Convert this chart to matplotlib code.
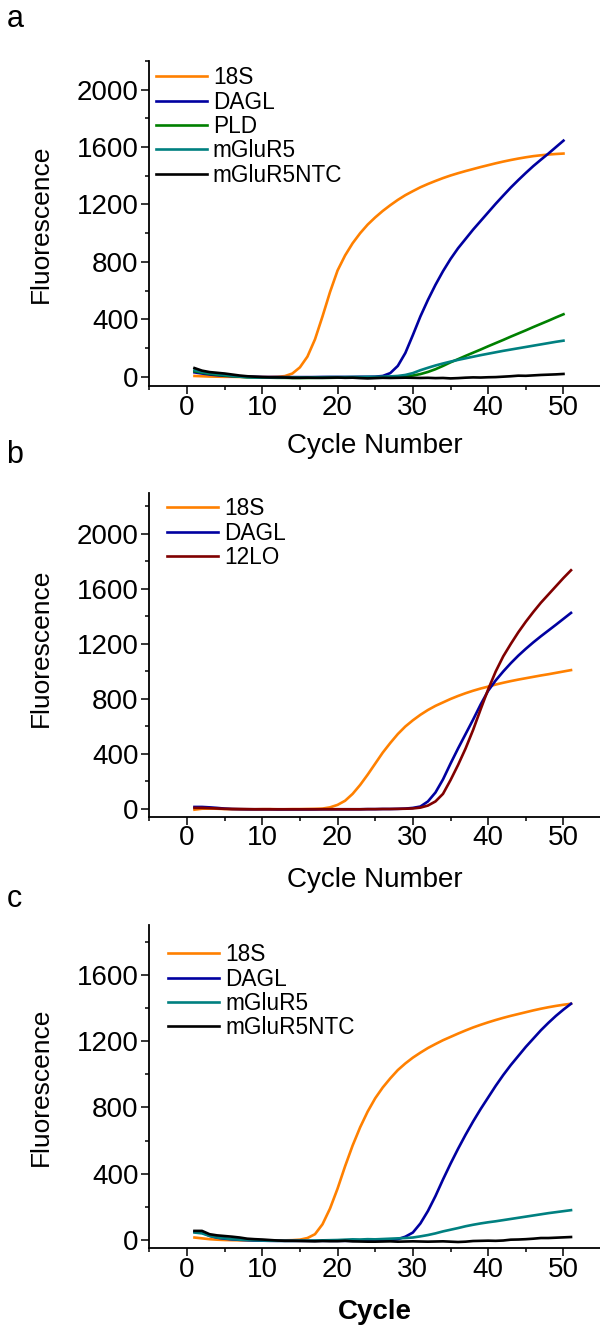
import numpy as np
import matplotlib.pyplot as plt
from matplotlib.ticker import MultipleLocator

# ==========================================
# Data
# ==========================================
cycles_a = np.arange(1, 51)
cycles_bc = np.arange(1, 52)

# panel a
a_18s = [5, 3, 1, 0, -1, -1, -2, -2, -2, -2, -2, -1, 4, 22, 65, 140, 260, 420, 590, 740,
         845, 930, 1000, 1060, 1110, 1155, 1195, 1232, 1265, 1293, 1320, 1343, 1364, 1384, 1402,
         1418, 1433, 1447, 1461, 1474, 1487, 1499, 1510, 1520, 1529, 1537, 1543, 1548, 1552, 1555]
a_dagl = [30, 22, 15, 10, 6, 3, 1, 0, -1, -2, -2, -2, -3, -3, -3, -3, -3, -2, -2, -2,
          -2, -2, -1, -1, 0, 5, 25, 75, 165, 290, 420, 535, 640, 735, 820, 895, 960, 1025,
          1085, 1145, 1205, 1262, 1318, 1370, 1420, 1468, 1512, 1555, 1600, 1645]
a_pld = [38, 28, 20, 14, 9, 4, 0, -4, -5, -6, -7, -8, -8, -9, -9, -9, -8, -8, -8, -7,
         -7, -6, -6, -5, -5, -4, -3, -2, 2, 8, 18, 33, 52, 75, 100, 122, 145, 167, 189, 212,
         234, 256, 279, 301, 323, 346, 368, 390, 413, 435]
a_mglur5 = [45, 32, 24, 18, 12, 6, 0, -4, -6, -6, -7, -7, -6, -6, -5, -5, -4, -4, -3, -3,
            -3, -2, -2, -1, -1, 0, 2, 5, 12, 25, 45, 62, 78, 92, 105, 117, 128, 139, 150, 160,
            170, 180, 189, 198, 207, 216, 225, 234, 243, 251]
a_ntc = [60, 42, 32, 27, 22, 15, 8, 3, 0, -3, -5, -5, -6, -8, -8, -7, -8, -8, -7, -6,
         -8, -7, -10, -12, -10, -8, -9, -8, -7, -8, -9, -8, -10, -9, -12, -10, -7, -5, -6, -4,
         -3, 0, 3, 7, 6, 9, 12, 14, 16, 19]

# panel b
b_18s = [-5, 2, 3, 2, 0, -1, -1, -2, -2, -1, -1, -2, -2, -1, -1, 0, 1, 3, 12, 30,
         60, 110, 175, 250, 330, 410, 480, 545, 600, 645, 685, 720, 750, 775, 800, 822, 842,
         860, 876, 890, 905, 918, 930, 941, 951, 961, 971, 980, 990, 1000, 1010]
b_dagl = [15, 15, 12, 8, 3, 0, -1, -2, -2, -2, -2, -3, -3, -3, -3, -3, -3, -2, -2, -2,
          -2, -2, -2, -1, -1, 0, 0, 1, 3, 8, 18, 55, 120, 215, 330, 440, 545, 650, 760, 860,
          935, 1000, 1060, 1115, 1165, 1212, 1256, 1298, 1340, 1383, 1426]
b_12lo = [8, 8, 6, 4, 1, 0, -1, -1, -2, -2, -2, -2, -2, -2, -2, -2, -2, -2, -2, -2,
          -2, -2, -2, -1, -1, 0, 0, 1, 2, 4, 10, 25, 55, 110, 210, 320, 440, 575, 725, 870,
          1000, 1110, 1200, 1285, 1362, 1433, 1500, 1560, 1620, 1680, 1736]

# panel c
c_18s = [15, 10, 5, 2, 0, -1, -2, -2, -2, -2, -2, -2, -2, -1, 2, 12, 35, 95, 190, 310,
         445, 570, 680, 775, 855, 920, 975, 1025, 1065, 1100, 1130, 1158, 1182, 1205, 1225,
         1245, 1264, 1282, 1298, 1313, 1327, 1340, 1352, 1363, 1374, 1385, 1395, 1404, 1412,
         1419, 1425]
c_dagl = [50, 45, 25, 14, 8, 4, 1, -1, -3, -4, -5, -5, -5, -5, -5, -5, -5, -5, -5, -5,
          -5, -5, -4, -4, -3, -2, 0, 5, 20, 45, 100, 175, 265, 365, 460, 550, 635, 715, 790,
          860, 930, 995, 1055, 1110, 1165, 1215, 1265, 1310, 1352, 1390, 1425]
c_mglur5 = [45, 40, 25, 15, 10, 5, 2, 0, -2, -3, -4, -5, -5, -5, -4, -4, -3, -2, -1, 0,
            2, 4, 3, 5, 4, 6, 8, 10, 12, 15, 22, 30, 40, 52, 62, 72, 83, 92, 100, 107, 113,
            120, 127, 134, 141, 148, 155, 162, 168, 174, 180]
c_ntc = [55, 55, 35, 28, 24, 20, 15, 8, 5, 3, 0, -3, -5, -5, -6, -7, -8, -6, -7, -7,
         -5, -8, -9, -10, -10, -9, -8, -10, -9, -8, -9, -10, -9, -8, -10, -12, -10, -6, -5,
         -4, -5, -3, 2, 3, 5, 8, 12, 12, 14, 16, 18]

colors = {'18S': '#FF8000', 'DAGL': '#0000A0', 'PLD': '#008000',
          'mGluR5': '#008080', 'mGluR5NTC': '#000000', '12LO': '#800000'}

# ==========================================
# Figure
# ==========================================
plt.rcParams.update({'font.family': ['Liberation Sans', 'DejaVu Sans'],
                     'axes.linewidth': 1.3})
W, H = 600, 1325
fig = plt.figure(figsize=(W / 100, H / 100), dpi=100)


def panel(top, bottom, ylim, ylab_y):
    ax = fig.add_axes([149.3 / W, 1 - bottom / H, (W - 149.3) / W, (bottom - top) / H])
    ax.set_xlim(-5, 54.85)
    ax.set_ylim(*ylim)
    ax.spines['top'].set_visible(False)
    ax.spines['right'].set_visible(False)
    ax.xaxis.set_major_locator(MultipleLocator(10))
    ax.xaxis.set_minor_locator(MultipleLocator(5))
    ax.yaxis.set_major_locator(MultipleLocator(400))
    ax.yaxis.set_minor_locator(MultipleLocator(200))
    ax.tick_params(which='major', direction='out', length=5.5, width=1.1, labelsize=20)
    ax.tick_params(which='minor', direction='out', length=3.0, width=1.1)
    ax.tick_params(axis='y', which='major', pad=2.2)
    ax.tick_params(axis='x', which='major', pad=0.8)
    ax.set_ylabel('Fluorescence', fontsize=19, va='baseline')
    ax.yaxis.set_label_coords(-0.224, ylab_y)
    return ax


def add_legend(ax, x_px, top_px):
    ax.legend(loc='upper left', bbox_to_anchor=(x_px / W, 1 - top_px / H),
              bbox_transform=fig.transFigure, frameon=False, fontsize=16.3,
              borderpad=0, borderaxespad=0, handlelength=2.25, handletextpad=0.27,
              labelspacing=0.058)


lw = 1.9

# Panel a
ax1 = panel(61, 386, (-65, 2200), 0.5)
ax1.plot(cycles_a, a_18s, color=colors['18S'], lw=lw, label='18S')
ax1.plot(cycles_a, a_dagl, color=colors['DAGL'], lw=lw, label='DAGL')
ax1.plot(cycles_a, a_pld, color=colors['PLD'], lw=lw, label='PLD')
ax1.plot(cycles_a, a_mglur5, color=colors['mGluR5'], lw=lw, label='mGluR5')
ax1.plot(cycles_a, a_ntc, color=colors['mGluR5NTC'], lw=lw, label='mGluR5NTC')
ax1.set_xlabel('Cycle Number', fontsize=20, va='baseline')
ax1.xaxis.set_label_coords(0.5, -0.206)
add_legend(ax1, 155.7, 66.4)

# Panel b
ax2 = panel(492.7, 816.7, (-56, 2300), 0.522)
ax2.plot(cycles_bc, b_18s, color=colors['18S'], lw=lw, label='18S')
ax2.plot(cycles_bc, b_dagl, color=colors['DAGL'], lw=lw, label='DAGL')
ax2.plot(cycles_bc, b_12lo, color=colors['12LO'], lw=lw, label='12LO')
ax2.set_xlabel('Cycle Number', fontsize=20, va='baseline')
ax2.xaxis.set_label_coords(0.5, -0.216)
add_legend(ax2, 167, 497.4)

# Panel c
ax3 = panel(925, 1248.3, (-50, 1900), 0.5)
ax3.plot(cycles_bc, c_18s, color=colors['18S'], lw=lw, label='18S')
ax3.plot(cycles_bc, c_dagl, color=colors['DAGL'], lw=lw, label='DAGL')
ax3.plot(cycles_bc, c_mglur5, color=colors['mGluR5'], lw=lw, label='mGluR5')
ax3.plot(cycles_bc, c_ntc, color=colors['mGluR5NTC'], lw=lw, label='mGluR5NTC')
ax3.set_xlabel('Cycle', fontsize=20, fontweight='bold', va='baseline')
ax3.xaxis.set_label_coords(0.5, -0.218)
add_legend(ax3, 168, 943.4)

# Panel letters
for letter, base in [('a', 26.7), ('b', 463.3), ('c', 906.7)]:
    fig.text(6.5 / W, 1 - base / H, letter, fontsize=22, va='baseline', ha='left')

fig.savefig('out.png', dpi=100)
